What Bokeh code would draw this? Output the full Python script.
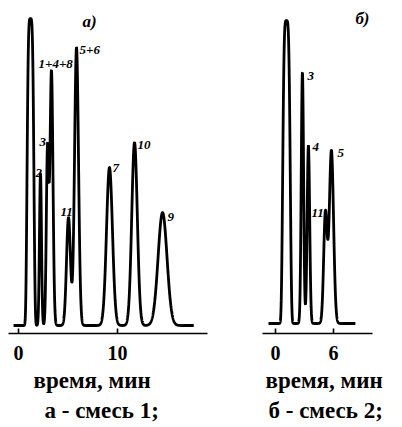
import numpy as np
from bokeh.plotting import figure
from bokeh.layouts import row
from bokeh.models import Range1d, FixedTicker, Title, ColumnDataSource, Label
from bokeh.core.properties import value
from bokeh.embed import file_html
from bokeh.resources import INLINE

# ---------------- Panel а (смесь 1) ----------------
a_names   = ["", "2", "3", "1+4+8", "11", "5+6", "7", "10", "9"]
a_times   = [1.21, 2.22, 2.93, 3.33, 5.05, 5.86, 9.19, 11.72, 14.55]   # min
a_heights = [100.0, 49.5, 57.0, 83.0, 35.2, 90.6, 51.5, 59.6, 36.8]
a_widths  = [0.32, 0.10, 0.12, 0.15, 0.20, 0.20, 0.30, 0.28, 0.45]
a_powers  = [4, 2, 2, 2, 2, 2, 2, 2, 2]
a_span    = [-0.5, 17.7]
a_ticks   = [0, 10]

# ---------------- Panel б (смесь 2) ----------------
b_names   = ["", "3", "4", "11", "5"]
b_times   = [1.14, 2.79, 3.41, 5.17, 5.79]
b_heights = [100.0, 82.8, 58.7, 36.3, 57.1]
b_widths  = [0.36, 0.12, 0.13, 0.18, 0.22]
b_powers  = [4, 2, 2, 2, 2]
b_span    = [-0.72, 8.27]
b_ticks   = [0, 6]

# label offsets in screen pixels (dx, dy down)
a_off = [(0, 0), (-5, -1), (-8, -9), (-13, -7), (-8, -5), (3, 3), (3, 1), (3, 2), (5, 4)]
b_off = [(0, 0), (5, 3), (4, 1), (-14, -1), (6, 2)]

SERIF = "Liberation Serif"


def trace(times, heights, widths, powers, span):
    t = np.linspace(span[0], span[1], 2500)
    y = np.zeros_like(t)
    for t0, h, w, pw in zip(times, heights, widths, powers):
        y += h * np.exp(-0.5 * np.abs((t - t0) / w) ** pw)
    return t, y


def panel(names, times, heights, widths, powers, span, ticks, offs,
          xr, yr, fw, mbl, mbr, tag, tag_xy, line1_off, line2, line2_off):
    p = figure(frame_width=fw, frame_height=325,
               x_range=Range1d(*xr), y_range=Range1d(*yr),
               output_backend="svg", toolbar_location=None,
               min_border_left=mbl, min_border_top=8, min_border_right=mbr,
               min_border_bottom=86, y_axis_location=None)
    p.outline_line_color = None
    p.xgrid.grid_line_color = None
    p.ygrid.grid_line_color = None
    p.background_fill_color = "white"
    p.border_fill_color = "white"

    t, y = trace(times, heights, widths, powers, span)
    p.line(t, y, line_color="black", line_width=2.8)

    src = ColumnDataSource(dict(
        x=[tt for tt, n in zip(times, names) if n],
        y=[hh for hh, n in zip(heights, names) if n],
        txt=[n for n in names if n],
        dx=[o[0] for o, n in zip(offs, names) if n],
        dy=[o[1] for o, n in zip(offs, names) if n],
    ))
    p.text(x="x", y="y", text="txt", x_offset="dx", y_offset="dy", source=src,
           text_font=value(SERIF), text_font_size="13px",
           text_font_style="bold italic", text_color="black",
           text_align="left", text_baseline="middle")

    p.add_layout(Label(x=tag_xy[0], y=tag_xy[1], text=tag,
                       text_font=SERIF, text_font_size="17px",
                       text_font_style="bold italic", text_color="black",
                       text_baseline="middle"))

    ax = p.xaxis[0]
    ax.ticker = FixedTicker(ticks=ticks)
    ax.axis_line_width = 1.6
    ax.axis_line_color = "black"
    ax.major_tick_in = 5
    ax.major_tick_out = 0
    ax.major_tick_line_width = 1.6
    ax.minor_tick_line_color = None
    ax.major_label_standoff = 12
    ax.major_label_text_font = SERIF
    ax.major_label_text_font_size = "20px"
    ax.major_label_text_font_style = "bold"
    ax.major_label_text_color = "black"

    p.add_layout(Title(text="время, мин", align="left", offset=line1_off,
                       text_font=SERIF, text_font_size="23px",
                       text_font_style="bold", text_color="black",
                       standoff=6), "below")
    p.add_layout(Title(text=line2, align="left", offset=line2_off,
                       text_font=SERIF, text_font_size="23px",
                       text_font_style="bold", text_color="black",
                       standoff=0), "below")
    return p


pa = panel(a_names, a_times, a_heights, a_widths, a_powers, a_span, a_ticks, a_off,
           xr=(-1.01, 19.09), yr=(-2.6, 103.3), fw=199, mbl=8, mbr=55,
           tag="а)", tag_xy=(6.46, 99.0), line1_off=25,
           line2="а - смесь 1;", line2_off=36)
pb = panel(b_names, b_times, b_heights, b_widths, b_powers, b_span, b_ticks, b_off,
           xr=(-1.34, 10.04), yr=(-3.3, 104.0), fw=110, mbl=0, mbr=22,
           tag="б)", tag_xy=(8.27, 100.7), line1_off=3,
           line2="б - смесь 2;", line2_off=6)

layout = row(pa, pb, spacing=0)
open("out.html", "w").write(file_html(layout, INLINE))
